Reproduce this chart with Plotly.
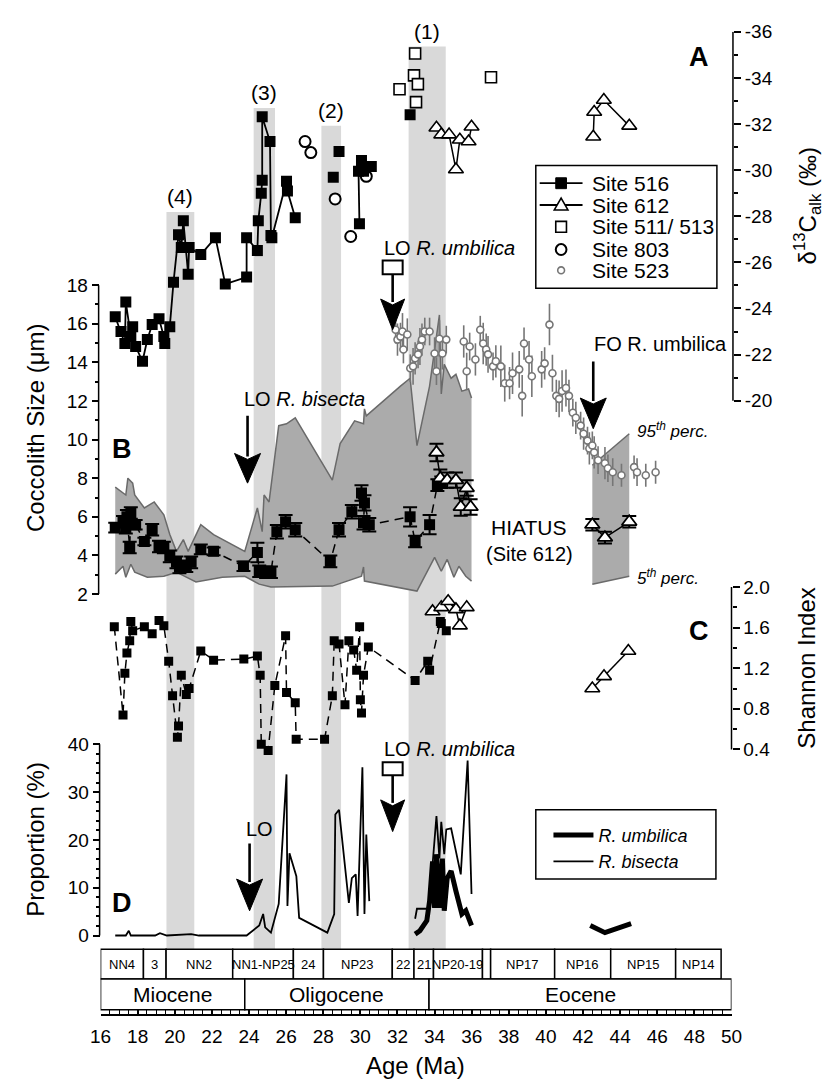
import plotly.graph_objects as go

W, H = 835, 1084
FONT = "Liberation Sans, Arial, Helvetica, sans-serif"


def fx(p):
    return p / W


def fy(p):
    return 1 - p / H


# ======================= DATA =======================
# ---- Panel A : d13C alkenone (permil) ----
a516_age = [16.79, 17.10, 17.31, 17.36, 17.63, 17.73, 17.89, 18.26, 18.52, 18.78, 19.15, 19.41, 19.46, 19.73,
            19.93, 20.20, 20.35, 20.46, 20.72, 20.77, 21.40, 22.19, 22.72, 23.87, 23.87, 24.45, 24.50, 24.66,
            24.71, 24.71, 25.13, 25.18, 25.23, 26.02, 26.07, 26.49, None, 28.54, None, 28.85, None,
            29.95, 29.90, 30.06, 30.17, 30.59, None, 32.68]
a516_d13c = [-23.64, -23.00, -22.48, -24.28, -22.78, -23.21, -22.35, -21.71, -22.65, -23.30, -23.55, -22.78,
             -22.48, -23.21, -25.14, -27.20, -26.64, -27.80, -25.48, -26.64, -26.34, -27.07, -25.06, -25.36,
             -27.07, -26.51, -27.80, -29.00, -29.56, -32.31, -31.24, -27.16, -27.07, -29.52, -29.09, -27.93,
             None, -29.69, None, -30.81, None, -27.67, -29.95, -30.42, -29.95, -30.16, None, -32.40]

a612_age = [34.10, 34.36, 34.78, 35.15, 35.36, 35.83, 35.99, None, 42.55, 42.60, 43.12, 44.49]
a612_d13c = [-31.84, -31.54, -31.54, -30.03, -31.32, -31.24, -31.88, None, -31.45, -32.52, -33.04, -31.92]

a511_age = [32.11, 32.89, 32.95, 33.00, 33.10, 37.04]
a511_d13c = [-33.51, -34.11, -35.06, -32.95, -33.73, -34.03]

a803_age = [27.02, 27.33, 28.64, 29.48, 30.32]
a803_d13c = [-31.24, -30.76, -28.75, -27.12, -29.73]

a523_age = [31.90, 32.00, 32.16, 32.27, 32.32, 32.53, 32.69, 32.84, 32.95, 33.11, 33.21, 33.32, 33.47, 33.73,
            34.00, 34.10, 34.26, 34.42, 34.63, 35.57, 35.73, 35.89, 36.20, 36.46, 36.62, 36.78, 36.88, 37.15,
            37.30, 37.57, 37.78, 38.04, 38.20, 38.56, 38.72, 38.82, 39.09, 39.24, 39.77, 39.93, 40.19, 40.35,
            40.56, 40.71, 40.87, 41.08, 41.24, 41.45, 41.61, 41.87, 42.03, 42.24, 42.34, 42.50, 42.60, 42.81,
            43.18, 43.34, 43.60, 44.07, 44.75, 44.91, 45.38, 45.91]
a523_d13c = [-23.08, -22.65, -22.78, -23.00, -22.22, -22.87, -21.41, -21.49, -21.84, -22.01, -22.35, -22.65,
             -23.00, -23.00, -22.05, -21.28, -22.69, -22.05, -22.65, -22.57, -21.28, -22.35, -21.79, -23.08,
             -22.48, -22.22, -22.01, -21.49, -21.71, -21.49, -20.76, -20.76, -21.19, -21.36, -20.21, -22.48,
             -21.79, -21.06, -21.36, -21.62, -23.30, -21.19, -20.21, -20.08, -20.42, -20.55, -20.21, -19.48,
             -19.26, -18.92, -18.57, -18.27, -17.93, -18.06, -17.76, -17.42, -17.29, -17.07, -16.90, -16.77,
             -17.12, -16.90, -16.77, -16.90]
a523_err = [0.6, 0.7, 0.6, 0.8, 0.6, 0.7, 0.6, 0.8, 0.7, 0.6, 0.8, 0.7, 0.6, 0.6, 0.7, 0.6, 0.8, 0.7, 0.6,
            0.7, 0.8, 0.6, 0.7, 0.6, 0.9, 0.7, 0.8, 0.6, 0.7, 0.9, 0.8, 0.7, 0.9, 0.8, 0.9, 0.7, 0.8, 0.9,
            0.8, 0.7, 0.9, 0.8, 0.7, 0.8, 0.9, 0.8, 0.7, 0.6, 0.7, 0.6, 0.7, 0.6, 0.7, 0.6, 0.7, 0.6, 0.7,
            0.6, 0.6, 0.5, 0.5, 0.6, 0.5, 0.5]

# ---- Panel B : coccolith size (um) ----
b516_age = [16.79, 17.21, 17.36, 17.42, 17.57, 17.63, 17.89, 18.36, 18.78, 19.15, 19.41, 19.73, 20.09, 20.25,
            20.62, 20.88, 21.40, 22.09, 23.70, 24.45, 24.55, 24.92, 25.18, 25.50, 25.97, 26.49, 28.38, 28.85,
            29.54, 30.06, 30.17, 30.22, 30.48, 32.68, 32.95, 33.73, 34.15, 34.36]
b516_size = [5.44, 5.74, 5.44, 6.00, 4.41, 6.20, 5.59, 4.72, 5.33, 4.46, 4.41, 3.95, 3.64, 3.38, 3.44, 3.64,
             4.31, 4.21, 3.44, 4.15, 3.18, 3.13, 3.13, 5.23, 5.74, 5.33, 3.69, 5.33, 6.26, 7.23, 5.69, 6.72,
             5.59, 6.00, 4.72, 5.59, 7.64, 7.79]
b516_err = [0.25, 0.3, 0.3, 0.35, 0.3, 0.3, 0.25, 0.2, 0.3, 0.3, 0.3, 0.3, 0.3, 0.3, 0.3, 0.3, 0.25, 0.2,
            0.25, 0.5, 0.3, 0.3, 0.3, 0.35, 0.35, 0.35, 0.3, 0.35, 0.35, 0.4, 0.35, 0.4, 0.35, 0.5, 0.3,
            0.5, 0.3, 0.3]

b612_age = [34.10, 34.31, 34.68, 35.15, 35.41, 35.73, 35.94, None, 42.50, 43.18, 44.49]
b612_size = [9.33, 8.00, 7.90, 7.90, 6.51, 7.49, 6.51, None, 5.59, 4.92, 5.74]
b612_err = [0.45, 0.45, 0.4, 0.4, 0.45, 0.4, 0.4, None, 0.3, 0.3, 0.3]

p95_age = [16.79, 17.36, 17.47, 17.73, 17.84, 18.36, 18.89, 19.41, 19.73, 20.09, 20.46, 20.72, 21.40, 22.09,
           23.77, 24.45, 24.71, 24.81, 25.08, 25.60, 26.02, 26.49, 28.49, 28.91, 29.69, 30.17, 30.22, 30.32,
           32.16, 32.68, 33.05, 33.73, 34.26, 34.36, 34.52, 34.89, 35.15, 35.47, 35.83, 35.99]
p95_size = [7.54, 7.13, 8.00, 7.74, 7.13, 6.46, 6.77, 6.10, 5.08, 4.21, 4.82, 4.21, 5.59, 5.08, 4.21, 6.46,
            5.23, 7.13, 6.77, 10.72, 10.82, 11.13, 7.90, 9.79, 10.97, 10.82, 11.59, 11.23, 12.77, 13.18, 9.69,
            12.77, 16.46, 12.36, 13.90, 13.18, 13.38, 12.51, 12.62, 12.15]
p05_age = [16.79, 17.21, 17.36, 17.63, 17.84, 18.52, 19.41, 20.09, 21.14, 22.56, 23.77, 24.55, 25.18, 28.49,
           30.06, 30.17, 30.22, 33.05, 34.00, 34.36, 34.68, 35.04, 35.31, 35.68, 35.99]
p05_size = [3.03, 3.44, 2.87, 3.54, 3.13, 2.87, 2.92, 3.13, 2.62, 2.87, 2.92, 2.51, 2.36, 2.41, 2.92, 3.40,
            2.67, 2.15, 3.90, 3.18, 3.79, 2.87, 3.44, 2.92, 2.67]
p95b_age = [42.50, 44.49]
p95b_size = [8.67, 10.30]
p05b_age = [42.50, 44.49]
p05b_size = [2.51, 2.92]

# ---- Panel C : Shannon index ----
c516_age = [16.74, 17.21, 17.31, 17.42, 17.57, 17.63, 17.73, 18.36, 18.78, 19.15, 19.41, 19.67, 19.88, 20.14,
            20.20, 20.35, 20.62, 20.77, 21.40, 22.09, 23.72, 24.45, 24.60, 24.66, 25.03, 25.39, 25.97, 26.02,
            26.49, 26.54, 28.07, 28.49, 28.59, 28.85, 29.17, 29.38, 29.64, 29.80, 29.96, 30.00, 30.06, 30.17,
            30.43, 32.95, 33.63, 33.73, 34.31, 34.36, 34.63]
c516_h = [1.61, 0.74, 1.15, 1.35, 1.47, 1.66, 1.57, 1.61, 1.54, 1.67, 1.62, 1.27, 0.93, 0.52, 0.63, 1.13, 0.94,
          1.00, 1.37, 1.28, 1.29, 1.32, 1.13, 0.45, 0.39, 1.03, 1.52, 0.96, 0.86, 0.50, 0.50, 0.93, 1.47, 1.44,
          0.84, 1.47, 1.38, 1.18, 1.61, 0.89, 0.76, 1.13, 1.41, 1.08, 1.27, 1.18, 1.66, 1.64, 1.57]
c612_age = [33.89, 34.36, 34.73, 35.15, 35.36, 35.73, None, 42.50, 43.13, 44.44]
c612_h = [1.76, 1.80, 1.86, 1.78, 1.62, 1.80, None, 1.00, 1.12, 1.37]

# ---- Panel D : proportion (%) ----
bis_age = [16.79, 17.36, 17.52, 17.63, 18.94, 19.20, 19.57, 20.88, 21.30, 23.87, 24.55, 24.76, 24.87, 25.18,
           25.60, 26.02, 26.07, 26.18, 26.55, 26.70, 28.22, 28.59, 28.65, 28.85, 29.38, 29.54, 29.75, 29.85,
           30.11, 30.22, 30.32, 30.48, None, 32.95, 33.05, 33.70, 34.10, 34.26, 34.36, 34.52, 34.63, 34.89,
           35.41, 35.78, 35.99]
bis_pct = [0.0, 0.0, 1.0, 0.0, 0.0, 0.5, 0.0, 0.3, 0.0, 0.0, 2.1, 4.5, 1.7, 0.6, 6.6, 33.7, 6.2, 17.2, 12.4,
           3.7, 0.6, 4.5, 25.3, 26.3, 6.8, 12.0, 12.8, 4.1, 35.2, 4.5, 21.1, 7.2, None, 3.5, 5.6, 5.6, 25.0,
           16.1, 23.8, 17.0, 22.2, 22.4, 12.8, 36.6, 8.7]
umb_age = [32.95, 33.21, 33.58, 33.73, 33.89, 34.00, 34.10, 34.26, 34.42, 34.52, 34.68, 34.89, 35.15, 35.47,
           35.68, 35.99, None, 42.39, 43.18, 44.59]
umb_pct = [0.3, 1.0, 3.1, 7.2, 15.5, 5.8, 17.0, 5.8, 16.1, 5.2, 12.0, 13.5, 9.3, 4.5, 5.2, 2.1, None, 2.1, 0.6,
           2.5]

# ---- Stratigraphy ----
zone_names = ["NN4", "3", "NN2", "NN1-NP25", "24", "NP23", "22", "21", "NP20-19", "", "NP17", "NP16", "NP15",
              "NP14"]
zone_start = [16.0, 18.31, 19.53, 23.12, 26.39, 28.01, 31.72, 32.89, 33.94, 36.58, 37.02, 40.47, 43.49, 46.99]
zone_end = [18.31, 19.53, 23.12, 26.39, 28.01, 31.72, 32.89, 33.94, 36.58, 37.02, 40.47, 43.49, 46.99, 49.44]
epoch_names = ["Miocene", "Oligocene", "Eocene"]
epoch_start = [16.0, 23.77, 33.70]
epoch_end = [23.77, 33.70, 50.0]

# shaded intervals (1)-(4)
band_label = ["(4)", "(3)", "(2)", "(1)"]
band_start = [19.55, 24.25, 27.90, 32.60]
band_end = [21.05, 25.40, 28.96, 34.60]

# bio-events (ages)
lo_umbilica_age = 31.74
lo_bisecta_age = 23.92
fo_umbilica_age = 42.55
lo_bisecta_d_age = 24.03

# legend A labels
legA_labels = ["Site 516", "Site 612", "Site 511/ 513", "Site 803", "Site 523"]

x_ticks = list(range(16, 51, 2))

# ======================= FIGURE =======================
fig = go.Figure()
BLACK = "black"
FILL = "#ababab"
EDGE = "#6a6a6a"
GRAY523 = "#767676"

# --- B: percentile envelope ---
fig.add_trace(go.Scatter(x=p05_age, y=p05_size, mode="lines", line=dict(color=EDGE, width=1.5),
                         yaxis="y", showlegend=False, hoverinfo="skip"))
fig.add_trace(go.Scatter(x=p95_age, y=p95_size, mode="lines", line=dict(color=EDGE, width=1.5),
                         fill="tonexty", fillcolor=FILL, yaxis="y", showlegend=False, hoverinfo="skip"))
fig.add_trace(go.Scatter(x=p05b_age, y=p05b_size, mode="lines", line=dict(color=EDGE, width=1.5),
                         yaxis="y", showlegend=False, hoverinfo="skip"))
fig.add_trace(go.Scatter(x=p95b_age, y=p95b_size, mode="lines", line=dict(color=EDGE, width=1.5),
                         fill="tonexty", fillcolor=FILL, yaxis="y", showlegend=False, hoverinfo="skip"))

# --- B: sizes ---
fig.add_trace(go.Scatter(x=b516_age, y=b516_size, mode="lines+markers", yaxis="y", showlegend=False,
                         line=dict(color=BLACK, width=1.5, dash="9px,6px"),
                         marker=dict(symbol="square", size=11, color=BLACK),
                         error_y=dict(type="data", array=b516_err, color=BLACK, thickness=2, width=7)))
fig.add_trace(go.Scatter(x=b612_age, y=b612_size, mode="lines+markers", yaxis="y", showlegend=False,
                         line=dict(color=BLACK, width=1.5),
                         marker=dict(symbol="triangle-up", size=13, color="white",
                                     line=dict(color=BLACK, width=1.8)),
                         error_y=dict(type="data", array=b612_err, color=BLACK, thickness=2, width=7)))

# --- A: d13C ---
fig.add_trace(go.Scatter(x=a523_age, y=a523_d13c, mode="markers", yaxis="y2", name="Site 523",
                         showlegend=False,
                         marker=dict(symbol="circle", size=7, color="white",
                                     line=dict(color=GRAY523, width=1.6)),
                         error_y=dict(type="data", array=a523_err, color=GRAY523, thickness=1.6, width=0)))
fig.add_trace(go.Scatter(x=a803_age, y=a803_d13c, mode="markers", yaxis="y2", name="Site 803",
                         showlegend=False,
                         marker=dict(symbol="circle", size=11, color="white",
                                     line=dict(color=BLACK, width=2))))
fig.add_trace(go.Scatter(x=a511_age, y=a511_d13c, mode="markers", yaxis="y2", name="Site 511/ 513",
                         showlegend=False,
                         marker=dict(symbol="square", size=11, color="white",
                                     line=dict(color=BLACK, width=1.6))))
fig.add_trace(go.Scatter(x=a612_age, y=a612_d13c, mode="lines+markers", yaxis="y2", name="Site 612",
                         showlegend=False,
                         line=dict(color=BLACK, width=1.5),
                         marker=dict(symbol="triangle-up", size=13, color="white",
                                     line=dict(color=BLACK, width=1.6))))
fig.add_trace(go.Scatter(x=a516_age, y=a516_d13c, mode="lines+markers", yaxis="y2", name="Site 516",
                         showlegend=False,
                         line=dict(color=BLACK, width=1.8),
                         marker=dict(symbol="square", size=11, color=BLACK)))

# --- C: Shannon ---
fig.add_trace(go.Scatter(x=c516_age, y=c516_h, mode="lines+markers", yaxis="y3", showlegend=False,
                         line=dict(color=BLACK, width=1.5, dash="9px,6px"),
                         marker=dict(symbol="square", size=9, color=BLACK)))
fig.add_trace(go.Scatter(x=c612_age, y=c612_h, mode="lines+markers", yaxis="y3", showlegend=False,
                         line=dict(color=BLACK, width=1.5),
                         marker=dict(symbol="triangle-up", size=13, color="white",
                                     line=dict(color=BLACK, width=1.6))))

# --- D: proportions ---
fig.add_trace(go.Scatter(x=umb_age, y=umb_pct, mode="lines", yaxis="y4", name="<i>R. umbilica</i>",
                         legend="legend2", line=dict(color=BLACK, width=5)))
fig.add_trace(go.Scatter(x=bis_age, y=bis_pct, mode="lines", yaxis="y4", name="<i>R. bisecta</i>",
                         legend="legend2", line=dict(color=BLACK, width=1.8)))

# ======================= LAYOUT =======================
TICKFONT = dict(family=FONT, size=19, color=BLACK)
shapes = []
annotations = []

# shaded intervals
band_tops = [204, 99, 117, 37]
for s, e, top, lab in zip(band_start, band_end, band_tops, band_label):
    shapes.append(dict(type="rect", xref="x", yref="paper", x0=s, x1=e, y0=fy(949), y1=fy(top),
                       fillcolor="#d9d9d9", line=dict(width=0), layer="below"))
    annotations.append(dict(xref="x", yref="paper", x=(s + e) / 2, y=fy(top - 2), text=lab, showarrow=False,
                            xanchor="center", yanchor="bottom", font=dict(family=FONT, size=21, color=BLACK)))

# timescale boxes
for s, e, n in zip(zone_start, zone_end, zone_names):
    shapes.append(dict(type="rect", xref="x", yref="paper", x0=s, x1=e, y0=fy(979), y1=fy(949),
                       line=dict(color=BLACK, width=1.5), fillcolor="white"))
    if n:
        annotations.append(dict(xref="x", yref="paper", x=(s + e) / 2, y=fy(964), text=n, showarrow=False,
                                xanchor="center", yanchor="middle",
                                font=dict(family=FONT, size=13, color=BLACK)))
for s, e, n in zip(epoch_start, epoch_end, epoch_names):
    shapes.append(dict(type="rect", xref="x", yref="paper", x0=s, x1=e, y0=fy(1010), y1=fy(979),
                       line=dict(color=BLACK, width=1.5), fillcolor="white"))
    annotations.append(dict(xref="x", yref="paper", x=(s + e) / 2, y=fy(995), text=n, showarrow=False,
                            xanchor="center", yanchor="middle", font=dict(family=FONT, size=21, color=BLACK)))

# axis spines (bracket style)
shapes += [
    dict(type="line", xref="paper", yref="y", x0=fx(90), x1=fx(90), y0=2, y1=18, line=dict(color=BLACK, width=1.5)),
    dict(type="line", xref="paper", yref="y2", x0=fx(741.5), x1=fx(741.5), y0=-20, y1=-36,
         line=dict(color=BLACK, width=1.5)),
    dict(type="line", xref="paper", yref="y3", x0=fx(740), x1=fx(740), y0=0.4, y1=2.0,
         line=dict(color=BLACK, width=1.5)),
    dict(type="line", xref="paper", yref="y4", x0=fx(91), x1=fx(91), y0=0, y1=40, line=dict(color=BLACK, width=1.5)),
]


def arrow(age, stem_top, head_top, tip, halfw=12, box=None):
    out = [dict(type="line", xref="x", yref="paper", x0=age, x1=age, y0=fy(stem_top), y1=fy(head_top + 3),
                line=dict(color=BLACK, width=2.6)),
           dict(type="path", xref="x", yref="paper", xsizemode="pixel", xanchor=age,
                path=f"M {-halfw},{fy(head_top)} L 0,{fy(head_top + 6)} L {halfw},{fy(head_top)} L 0,{fy(tip)} Z",
                fillcolor=BLACK, line=dict(color=BLACK, width=1))]
    if box is not None:
        out.append(dict(type="rect", xref="x", yref="paper", xsizemode="pixel", xanchor=age, x0=-10, x1=10,
                        y0=fy(box[1]), y1=fy(box[0]), line=dict(color=BLACK, width=2), fillcolor="white"))
    return out


shapes += arrow(lo_umbilica_age, 267, 292, 323, 12, box=(253, 267))
shapes += arrow(lo_bisecta_age, 410, 448, 478, 13)
shapes += arrow(fo_umbilica_age, 355, 392, 423, 13)
shapes += arrow(lo_bisecta_d_age, 842, 878, 910, 13)
shapes += arrow(lo_umbilica_age, 773, 798, 830, 12, box=(760, 773))

# legend frames
shapes.append(dict(type="rect", xref="paper", yref="paper", x0=fx(539), x1=fx(725), y0=fy(281), y1=fy(157),
                   line=dict(color=BLACK, width=1.5), fillcolor="white", layer="below"))
shapes.append(dict(type="rect", xref="paper", yref="paper", x0=fx(539), x1=fx(724), y0=fy(878), y1=fy(808),
                   line=dict(color=BLACK, width=1.5), fillcolor="white", layer="below"))

# legend A glyphs (key samples)
rows = [175, 197, 219, 242, 263]
cx = 565
for r in rows[:2]:
    shapes.append(dict(type="line", xref="paper", yref="paper", x0=fx(543), x1=fx(587), y0=fy(r), y1=fy(r),
                       line=dict(color=BLACK, width=1.8)))
shapes.append(dict(type="rect", xref="paper", yref="paper", x0=fx(cx - 5.5), x1=fx(cx + 5.5),
                   y0=fy(rows[0] + 5.5), y1=fy(rows[0] - 5.5), fillcolor=BLACK, line=dict(color=BLACK, width=1)))
shapes.append(dict(type="path", xref="paper", yref="paper",
                   path=(f"M {fx(cx - 7)},{fy(rows[1] + 5)} L {fx(cx + 7)},{fy(rows[1] + 5)} "
                         f"L {fx(cx)},{fy(rows[1] - 7)} Z"),
                   fillcolor="white", line=dict(color=BLACK, width=1.6)))
shapes.append(dict(type="rect", xref="paper", yref="paper", x0=fx(cx - 5.5), x1=fx(cx + 5.5),
                   y0=fy(rows[2] + 5.5), y1=fy(rows[2] - 5.5), fillcolor="white", line=dict(color=BLACK, width=1.6)))
shapes.append(dict(type="circle", xref="paper", yref="paper", x0=fx(cx - 5.5), x1=fx(cx + 5.5),
                   y0=fy(rows[3] + 5.5), y1=fy(rows[3] - 5.5), fillcolor="white", line=dict(color=BLACK, width=2)))
shapes.append(dict(type="circle", xref="paper", yref="paper", x0=fx(cx - 3.5), x1=fx(cx + 3.5),
                   y0=fy(rows[4] + 3.5), y1=fy(rows[4] - 3.5), fillcolor="white",
                   line=dict(color=GRAY523, width=1.6)))


def note(x, y, text, size=20, xanchor="left", angle=0, bold=False):
    annotations.append(dict(xref="paper", yref="paper", x=fx(x), y=fy(y), text=(f"<b>{text}</b>" if bold else text),
                            showarrow=False, xanchor=xanchor, yanchor="middle", textangle=angle,
                            font=dict(family=FONT, size=size, color=BLACK)))


for r, lab in zip(rows, legA_labels):
    note(595, r, lab, 21)

note(381, 240, "LO <i>R. umbilica</i>", 20)
note(237, 393, "LO <i>R. bisecta</i>", 20)
note(597, 337, "FO R. umbilica", 20)
note(239, 827, "LO", 20)
note(381, 747, "LO <i>R. umbilica</i>", 20)
note(532, 523, "HIATUS", 21, "center")
note(533, 550, "(Site 612)", 20, "center")
note(641, 424, "<i>95<sup>th</sup> perc.</i>", 17)
note(641, 573, "<i>5<sup>th</sup> perc.</i>", 17)
note(707, 47, "A", 27, "center", bold=True)
note(114, 444, "B", 27, "center", bold=True)
note(707, 627, "C", 27, "center", bold=True)
note(114, 902, "D", 27, "center", bold=True)
# axis titles
note(25, 422, "Coccolith Size (\u03bcm)", 24, "center", angle=-90)
note(25, 838, "Proportion (%)", 24, "center", angle=-90)
note(818, 198, "\u03b4<sup>13</sup>C<sub>alk</sub> (\u2030)", 24, "center", angle=-90)
note(817, 665, "Shannon Index", 24, "center", angle=-90)
note(415, 1066, "Age (Ma)", 24, "center")


def yax(domain_px, rng, pos_px, side, ticks, ticktext, minor):
    return dict(domain=[fy(domain_px[0]), fy(domain_px[1])], range=rng, anchor="free", position=fx(pos_px),
                side=side, showline=False, showgrid=False, zeroline=False, tickmode="array",
                tickvals=ticks, ticktext=ticktext, ticks="outside", ticklen=7, tickwidth=1.5, tickcolor=BLACK,
                tickfont=TICKFONT, minor=dict(tickmode="array", tickvals=minor, ticks="outside", ticklen=4,
                                               tickwidth=1.5, tickcolor=BLACK, showgrid=False))


b_ticks = list(range(2, 19, 2))
a_ticks = list(range(-36, -19, 2))
c_ticks = [0.4, 0.8, 1.2, 1.6, 2.0]
d_ticks = [0, 10, 20, 30, 40]

fig.update_layout(
    width=W, height=H, autosize=False, margin=dict(l=0, r=0, t=0, b=0),
    paper_bgcolor="white", plot_bgcolor="rgba(0,0,0,0)",
    font=dict(family=FONT, color=BLACK),
    xaxis=dict(domain=[fx(92), fx(740)], range=[16, 50], anchor="free", position=fy(1015),
               showline=True, linecolor=BLACK, linewidth=1.5, showgrid=False, zeroline=False,
               tickmode="array", tickvals=x_ticks, ticktext=[str(t) for t in x_ticks],
               ticks="inside", ticklen=7, tickwidth=1.5, tickcolor=BLACK, tickfont=TICKFONT,
               ticklabelstandoff=5,
               minor=dict(dtick=0.5, tick0=16, ticks="inside", ticklen=4, tickwidth=1.2, tickcolor=BLACK,
                          showgrid=False)),
    yaxis=yax((600, 270), [1.487, 18.41], 90, "left", b_ticks, [str(t) for t in b_ticks], list(range(3, 18, 2))),
    yaxis2=yax((500, 22), [-15.48, -36], 741.5, "right", a_ticks, [f"-{abs(t)}" for t in a_ticks],
               list(range(-35, -20, 2))),
    yaxis3=yax((760, 575), [0.273, 2.078], 740, "right", c_ticks, [f"{t:.1f}" for t in c_ticks],
               [0.6, 1.0, 1.4, 1.8]),
    yaxis4=yax((945, 735), [-2.07, 41.41], 91, "left", d_ticks, [str(t) for t in d_ticks],
               list(range(2, 40, 2))),
    shapes=shapes, annotations=annotations,
    legend2=dict(x=fx(552), y=fy(815), xanchor="left", yanchor="top", bgcolor="rgba(0,0,0,0)", borderwidth=0,
                 font=dict(family=FONT, size=18, color=BLACK), tracegroupgap=0, itemwidth=40,
                 traceorder="normal"),
    showlegend=True,
)

fig.write_html("out.html", config={"displayModeBar": False})
